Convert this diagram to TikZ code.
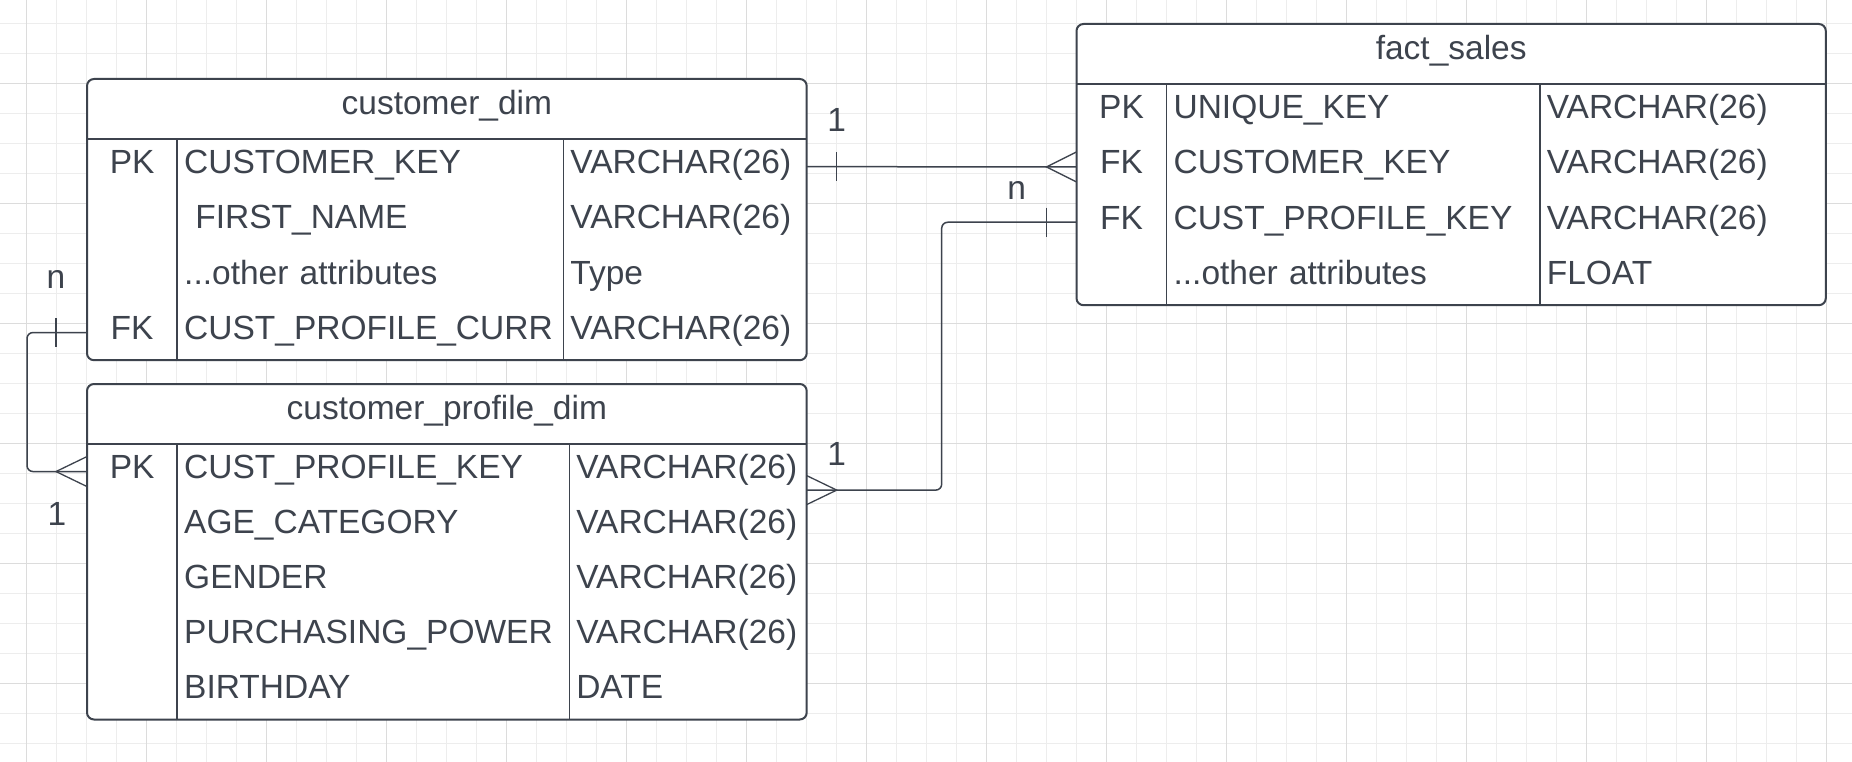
\documentclass[tikz,border=0pt]{standalone}
\usepackage{fontspec}
\setmainfont{Liberation Sans}
\usepackage{xcolor}
\usepackage{tikz}
\usetikzlibrary{positioning,calc}
\definecolor{ink}{HTML}{3D434D}
\definecolor{gridminor}{HTML}{EDEDED}
\definecolor{gridmajor}{HTML}{DCDCDC}

\begin{document}
\begin{tikzpicture}[
  x=1pt, y=-1pt,
  every node/.style={text=ink},
  font=\fontsize{33.5}{40}\selectfont,
  tbl/.style={rectangle, draw=ink, fill=white, line width=2pt,
    rounded corners=7pt, anchor=north west, inner sep=0pt, outer sep=0pt},
  ttl/.style={rectangle, inner sep=0pt, outer sep=0pt, minimum height=60pt,
    text height=21pt, text depth=9.4pt, anchor=north},
  cell/.style={rectangle, inner sep=0pt, outer sep=0pt, minimum height=55.3pt,
    text height=22pt, text depth=8pt},
  keycell/.style={cell, anchor=north west, align=center, minimum width=90.2pt},
  txtcell/.style={cell, inner xsep=7pt, align=left},
  sep/.style={draw=ink, line width=1.5pt},
  rel/.style={draw=ink, line width=1.5pt, rounded corners=6pt},
  foot/.style={draw=ink, line width=1.3pt},
  card/.style={anchor=base, inner sep=0pt},
  minorline/.style={draw=gridminor, line width=1.2pt},
  majorline/.style={draw=gridmajor, line width=1.2pt}
]
\useasboundingbox (0,0) rectangle (1852,762);
\fill[white] (0,0) rectangle (1852,762);

% grid paper
\foreach \i in {0,...,60} \draw[minorline] ({26.7+30*\i},0) -- ++(0,762);
\foreach \j in {0,...,24} \draw[minorline] (0,{23.3+30*\j}) -- ++(1852,0);
\foreach \i in {0,...,15} \draw[majorline] ({26.7+120*\i},0) -- ++(0,762);
\foreach \j in {0,...,5} \draw[majorline] (0,{83.3+120*\j}) -- ++(1852,0);

% customer_dim
\node[tbl, minimum width=719.7pt, minimum height=281.2pt] (cd) at (87,79) {};
\node[ttl, minimum width=719.7pt] (cd-title) at (cd.north) {customer\_dim};
\draw[sep] (cd-title.south west) -- (cd-title.south east);
\foreach \k/\n/\t [count=\i] in {PK/CUSTOMER\_KEY/VARCHAR(26),
    {}/\ FIRST\_NAME/VARCHAR(26), {}/{...other attributes}/Type,
    FK/CUST\_PROFILE\_CURR/VARCHAR(26)} {
  \node[keycell] (cd-k\i) at ([yshift={-(\i-1)*55.3pt}]cd-title.south west) {\k};
  \node[txtcell, text width=372.2pt, right=0pt of cd-k\i] (cd-n\i) {\n};
  \node[txtcell, text width=229.3pt, right=0pt of cd-n\i] (cd-t\i) {\t};
}
\draw[sep] (cd-k1.north east) -- (cd-k4.south east);
\draw[sep] (cd-n1.north east) -- (cd-n4.south east);

% customer_profile_dim
\node[tbl, minimum width=719.7pt, minimum height=335.5pt] (cpd) at (87,384) {};
\node[ttl, minimum width=719.7pt] (cpd-title) at (cpd.north) {customer\_profile\_dim};
\draw[sep] (cpd-title.south west) -- (cpd-title.south east);
\foreach \k/\n/\t [count=\i] in {PK/CUST\_PROFILE\_KEY/VARCHAR(26),
    {}/AGE\_CATEGORY/VARCHAR(26), {}/GENDER/VARCHAR(26),
    {}/PURCHASING\_POWER/VARCHAR(26), {}/BIRTHDAY/DATE} {
  \node[keycell, minimum height=55.1pt] (cpd-k\i) at ([yshift={-(\i-1)*55.1pt}]cpd-title.south west) {\k};
  \node[txtcell, minimum height=55.1pt, text width=378.1pt, right=0pt of cpd-k\i] (cpd-n\i) {\n};
  \node[txtcell, minimum height=55.1pt, text width=223.4pt, right=0pt of cpd-n\i] (cpd-t\i) {\t};
}
\draw[sep] (cpd-k1.north east) -- (cpd-k5.south east);
\draw[sep] (cpd-n1.north east) -- (cpd-n5.south east);

% fact_sales
\node[tbl, minimum width=749.3pt, minimum height=281.2pt] (fs) at (1076.5,24) {};
\node[ttl, minimum width=749.3pt] (fs-title) at (fs.north) {fact\_sales};
\draw[sep] (fs-title.south west) -- (fs-title.south east);
\foreach \k/\n/\t [count=\i] in {PK/UNIQUE\_KEY/VARCHAR(26),
    FK/CUSTOMER\_KEY/VARCHAR(26), FK/CUST\_PROFILE\_KEY/VARCHAR(26),
    {}/{...other attributes}/FLOAT} {
  \node[keycell, minimum width=90.1pt] (fs-k\i) at ([yshift={-(\i-1)*55.3pt}]fs-title.south west) {\k};
  \node[txtcell, text width=359.2pt, right=0pt of fs-k\i] (fs-n\i) {\n};
  \node[txtcell, text width=272pt, right=0pt of fs-n\i] (fs-t\i) {\t};
}
\draw[sep] (fs-k1.north east) -- (fs-k4.south east);
\draw[sep] (fs-n1.north east) -- (fs-n4.south east);

% customer_dim -- fact_sales
\draw[rel] (cd-t1.east) -- (fs-k2.west);
\draw[foot] ([xshift=30pt]cd-t1.east) ++(0,-14.5) -- ++(0,29);
\draw[foot] ([yshift=15pt]fs-k2.west) -- ([xshift=-30pt]fs-k2.west) -- ([yshift=-15pt]fs-k2.west);
\node[card] (c-cd) at ([xshift=30pt,yshift=35.3pt]cd-t1.east) {1};

% fact_sales -- customer_profile_dim
\coordinate (cpd-port) at ([yshift=9pt]cpd-t1.south east);
\draw[rel] (fs-k3.west) -| ([xshift=135pt]cpd-port) -- (cpd-port);
\draw[foot] ([xshift=-30pt]fs-k3.west) ++(0,-14.5) -- ++(0,29);
\draw[foot] ([yshift=14.5pt]cpd-port) -- ([xshift=30pt]cpd-port) -- ([yshift=-14.5pt]cpd-port);
\node[card] (n-fs) at ([xshift=-59.8pt,yshift=23pt]fs-k3.west) {n};
\node[card] (c-cpd) at ([xshift=30pt,yshift=25pt]cpd-port) {1};

% customer_dim -- customer_profile_dim
\draw[rel] (cd-k4.west) -- ++(-60,0) |- (cpd-k1.west);
\draw[foot] ([xshift=-31pt]cd-k4.west) ++(0,-14.5) -- ++(0,29);
\draw[foot] ([yshift=15pt]cpd-k1.west) -- ([xshift=-31pt]cpd-k1.west) -- ([yshift=-15pt]cpd-k1.west);
\node[card] (n-cd) at ([xshift=-31pt,yshift=44.3pt]cd-k4.west) {n};
\node[card] (c-cpd2) at ([xshift=-30pt,yshift=-53.8pt]cpd-k1.west) {1};
\end{tikzpicture}
\end{document}
